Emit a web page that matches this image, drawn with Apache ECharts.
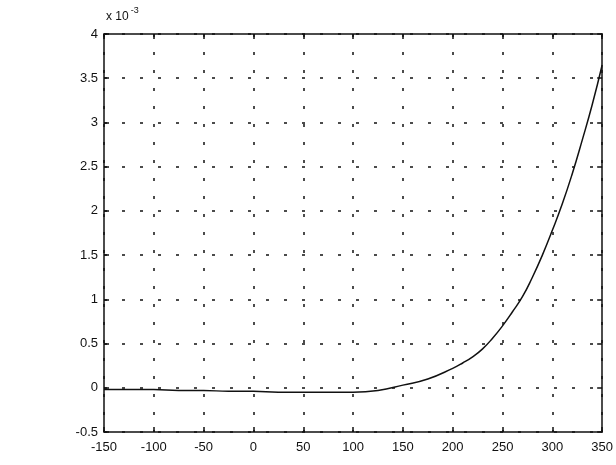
<!DOCTYPE html>
<html>
<head>
<meta charset="utf-8">
<script src="https://cdn.jsdelivr.net/npm/echarts@6/dist/echarts.min.js"></script>
<style>
  html, body { margin: 0; padding: 0; background: #fff; }
  #chart { width: 616px; height: 465px; }
</style>
</head>
<body>
<div id="chart"></div>
<script>
// values, y in units of 1e-3
const xs = [-150, -125, -100, -75, -50, -25, 0, 25, 50, 75, 100, 125, 150, 175, 200, 210, 220, 230, 240, 250, 260, 270, 280, 290, 300, 310, 320, 330, 340, 350];
const ys = [-0.02, -0.02, -0.02, -0.03, -0.03, -0.04, -0.04, -0.05, -0.05, -0.05, -0.05, -0.03, 0.03, 0.1, 0.22, 0.28, 0.35, 0.44, 0.56, 0.7, 0.86, 1.03, 1.25, 1.5, 1.78, 2.08, 2.42, 2.8, 3.2, 3.65];
const xTicks = [-150, -100, -50, 0, 50, 100, 150, 200, 250, 300, 350];
const yTicks = [-0.5, 0, 0.5, 1, 1.5, 2, 2.5, 3, 3.5, 4];

const chart = echarts.init(document.getElementById("chart"));
const font = "Liberation Sans, Arial, sans-serif";
const ink = "#111";
const dotted = { show: true, lineStyle: { color: ink, width: 1.5, type: [3, 15] } };
const tick = { show: true, inside: true, length: 5, lineStyle: { color: ink, width: 1.5 } };
const line = { show: true, onZero: false, lineStyle: { color: ink, width: 1.5 } };

chart.setOption({
  animation: false,
  backgroundColor: "#fff",
  grid: { left: 104, right: 5, top: 34, bottom: 33 },
  xAxis: [
    {
      type: "value", min: -150, max: 350, interval: 50,
      axisLine: line, axisTick: tick, splitLine: dotted,
      axisLabel: { color: ink, fontFamily: font, fontSize: 13, margin: 9,
        formatter: (v) => xTicks.includes(v) ? String(v) : "" },
    },
    {
      type: "value", position: "top", min: -150, max: 350, interval: 50,
      axisLine: line, axisTick: tick, splitLine: { show: false }, axisLabel: { show: false },
    },
  ],
  yAxis: [
    {
      type: "value", min: -0.5, max: 4, interval: 0.5,
      axisLine: line, axisTick: tick, splitLine: dotted,
      axisLabel: { color: ink, fontFamily: font, fontSize: 13, margin: 6,
        formatter: (v) => yTicks.includes(v) ? String(v) : "" },
    },
    {
      type: "value", position: "right", min: -0.5, max: 4, interval: 0.5,
      axisLine: line, axisTick: tick, splitLine: { show: false }, axisLabel: { show: false },
    },
  ],
  graphic: [
    {
      type: "text", left: 106, top: 6,
      style: {
        text: "{a|x 10}{b|-3}",
        rich: {
          a: { fontFamily: font, fontSize: 12, fill: ink, padding: [8, 0, 0, 0] },
          b: { fontFamily: font, fontSize: 9, fill: ink, padding: [0, 0, 4, 2] },
        },
      },
    },
  ],
  series: [
    {
      type: "line",
      data: xs.map((x, i) => [x, ys[i]]),
      smooth: true,
      showSymbol: false,
      lineStyle: { color: ink, width: 1.5 },
    },
  ],
});
</script>
</body>
</html>
